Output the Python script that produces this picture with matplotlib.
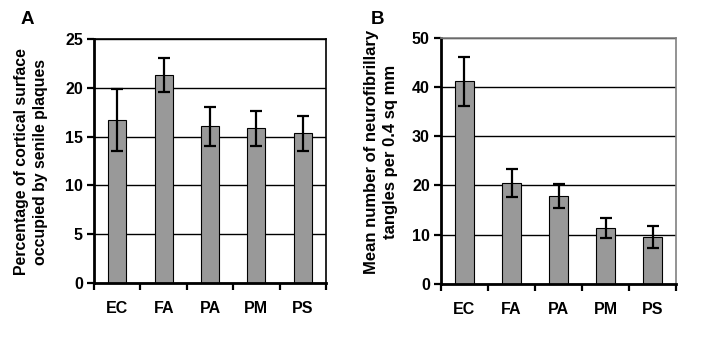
import numpy as np
import matplotlib.pyplot as plt

plt.rcParams["font.family"] = ["Liberation Sans", "DejaVu Sans"]
plt.rcParams["font.weight"] = "bold"

regions = ["EC", "FA", "PA", "PM", "PS"]

# panel A: senile plaques (% cortical surface)
plaques = [16.7, 21.3, 16.05, 15.85, 15.35]
plaques_err = [3.15, 1.75, 2.0, 1.8, 1.8]

# panel B: neurofibrillary tangles per 0.4 sq mm
tangles = [41.2, 20.5, 17.9, 11.3, 9.5]
tangles_err = [5.0, 2.9, 2.4, 2.0, 2.2]

fig = plt.figure(figsize=(7.14, 3.39), dpi=100)
axA = fig.add_axes([0.1317, 0.1652, 0.3249, 0.7198])
axB = fig.add_axes([0.6176, 0.1630, 0.3294, 0.7248])


def draw_panel(ax, vals, errs, ymax, step, box_color):
    x = np.arange(len(regions))
    ax.set_axisbelow(True)
    ax.yaxis.grid(True, color="black", linewidth=1.0)
    ax.bar(x, vals, width=0.39, color="#999999", edgecolor="black",
           linewidth=0.8, zorder=2)
    ax.errorbar(x, vals, yerr=errs, fmt="none", ecolor="black",
                elinewidth=1.6, capsize=4.5, capthick=1.6, zorder=3)
    ax.set_xlim(-0.5, len(regions) - 0.5)
    ax.set_ylim(0, ymax)
    ax.set_yticks(np.arange(0, ymax + step / 2, step))
    ax.set_xticks(np.arange(-0.5, len(regions), 1.0))
    ax.set_xticklabels([])
    ax.set_xticks(x, minor=True)
    ax.set_xticklabels(regions, minor=True, fontsize=11.5, fontweight="bold")
    ax.tick_params(axis="x", which="minor", length=0, pad=13)
    ax.tick_params(axis="x", which="major", direction="out", length=5,
                   width=1.6)
    ax.tick_params(axis="y", direction="out", length=5, width=1.6,
                   labelsize=11.5, pad=3)
    for lab in ax.get_yticklabels():
        lab.set_fontweight("bold")
    for side in ["left", "bottom"]:
        ax.spines[side].set_linewidth(2.0)
        ax.spines[side].set_color("black")
    for side in ["top", "right"]:
        ax.spines[side].set_linewidth(1.2)
        ax.spines[side].set_color(box_color)


draw_panel(axA, plaques, plaques_err, 25, 5, "black")
draw_panel(axB, tangles, tangles_err, 50, 10, "#808080")

fig.text(31 / 714, 1 - 162 / 339,
         "Percentage of cortical surface\noccupied by senile plaques",
         rotation=90, ha="center", va="center", fontsize=11.4,
         fontweight="bold", linespacing=1.4)
fig.text(381 / 714, 1 - 152 / 339,
         "Mean number of neurofibrillary\ntangles per 0.4 sq mm",
         rotation=90, ha="center", va="center", fontsize=12.0,
         fontweight="bold", linespacing=1.3)

fig.text(27 / 714, 1 - 20 / 339, "A", ha="center", va="center",
         fontsize=13.5, fontweight="bold")
fig.text(377 / 714, 1 - 20 / 339, "B", ha="center", va="center",
         fontsize=13.5, fontweight="bold")

fig.savefig("out.png", dpi=100)
